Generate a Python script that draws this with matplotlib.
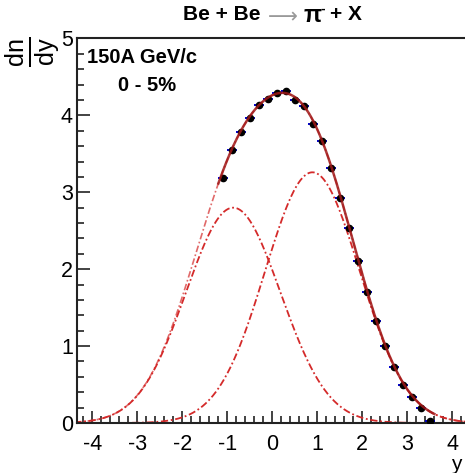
import numpy as np
import matplotlib
matplotlib.use("Agg")
import matplotlib.pyplot as plt
from matplotlib.ticker import MultipleLocator

plt.rcParams['font.family'] = ['Liberation Sans', 'DejaVu Sans']
plt.rcParams['mathtext.fontset'] = 'custom'
plt.rcParams['mathtext.rm'] = 'Liberation Sans'
plt.rcParams['mathtext.it'] = 'Liberation Sans'
plt.rcParams['mathtext.bf'] = 'Liberation Sans:bold'
plt.rcParams['axes.unicode_minus'] = False

# measured dn/dy points
y_rap = [-1.1, -0.9, -0.7, -0.5, -0.3, -0.1, 0.1, 0.3, 0.5, 0.7, 0.9, 1.1,
         1.3, 1.5, 1.7, 1.9, 2.1, 2.3, 2.5, 2.7, 2.9, 3.1, 3.3, 3.5]
dndy = [3.18, 3.55, 3.79, 3.97, 4.14, 4.21, 4.29, 4.32, 4.20, 4.12, 3.89, 3.67,
        3.32, 2.92, 2.53, 2.11, 1.70, 1.33, 1.00, 0.73, 0.50, 0.34, 0.19, 0.03]
xerr = 0.11

# double gaussian fit parameters
amp1, mu1, sig1 = 2.80, -0.87, 1.05
amp2, mu2, sig2 = 3.26, 0.89, 1.05

def gaus(x, a, m, s):
    return a * np.exp(-0.5 * ((x - m) / s) ** 2)

W, H = 465, 473
fig = plt.figure(figsize=(W / 100, H / 100), dpi=100)
ax = fig.add_axes([77 / W, 1 - 423 / H, (W - 77) / W, (423 - 38.5) / H])

xs = np.linspace(-4.4, 4.4, 600)
g1 = gaus(xs, amp1, mu1, sig1)
g2 = gaus(xs, amp2, mu2, sig2)
red = '#d42a2a'
dd = (0, (4, 1.5, 1, 1.5))
ax.plot(xs, g1, color=red, lw=1.3, ls=dd, zorder=2)
ax.plot(xs, g2, color=red, lw=1.3, ls=dd, zorder=2)
ax.plot(xs, g1 + g2, color=red, lw=1.2, ls=dd, alpha=0.7, zorder=2)

ax.errorbar(y_rap, dndy, xerr=xerr, fmt='o', color='black', ms=4.5,
            ecolor='#0000cc', elinewidth=1.4, capsize=0, zorder=3)

xf = np.linspace(-1.2, 3.6, 300)
ax.plot(xf, gaus(xf, amp1, mu1, sig1) + gaus(xf, amp2, mu2, sig2),
        color='#a01818', lw=1.8, alpha=0.85, zorder=4)

ax.set_xlim(-4.34, 4.28)
ax.set_ylim(0, 5)
ax.xaxis.set_major_locator(MultipleLocator(1))
ax.xaxis.set_minor_locator(MultipleLocator(0.2))
ax.yaxis.set_major_locator(MultipleLocator(1))
ax.yaxis.set_minor_locator(MultipleLocator(0.2))
ax.tick_params(which='both', direction='in', color='#222222', width=1.2,
               labelsize=15.5, top=False, right=False)
ax.tick_params(which='major', length=9)
ax.tick_params(which='minor', length=5)
ax.tick_params(axis='x', pad=8)
ax.tick_params(axis='y', pad=3)
ax.spines['right'].set_visible(False)
for s in ['left', 'bottom', 'top']:
    ax.spines[s].set_linewidth(1.5)
    ax.spines[s].set_color('#222222')

ax.text(0.027, 0.95, '150A GeV/c', transform=ax.transAxes, fontsize=14.5,
        fontweight='bold', ha='left', va='center')
ax.text(0.18, 0.877, '0 - 5%', transform=ax.transAxes, fontsize=14.5,
        fontweight='bold', ha='center', va='center')

# title pieces
def px(x, y):
    return x / W, 1 - y / H

fig.text(*px(183, 15), 'Be + Be', fontsize=15, fontweight='bold', ha='left', va='center')
fig.text(*px(268, 17), '\u27f6', fontsize=15, color='#999999', ha='left', va='center',
         family=['DejaVu Sans'])
fig.text(*px(303, 16), '\u03c0', fontsize=17, fontweight='bold', ha='left', va='center')
fig.text(*px(320, 9), '-', fontsize=10, fontweight='bold', ha='left', va='center')
fig.text(*px(330, 15), '+ X', fontsize=15, fontweight='bold', ha='left', va='center')

fig.text(*px(32, 52), r'$\frac{\mathrm{dn}}{\mathrm{dy}}$', fontsize=26,
         rotation=90, ha='center', va='center')
fig.text(*px(456, 464), 'y', fontsize=15, ha='center', va='center')

fig.savefig('out.png', dpi=100)
